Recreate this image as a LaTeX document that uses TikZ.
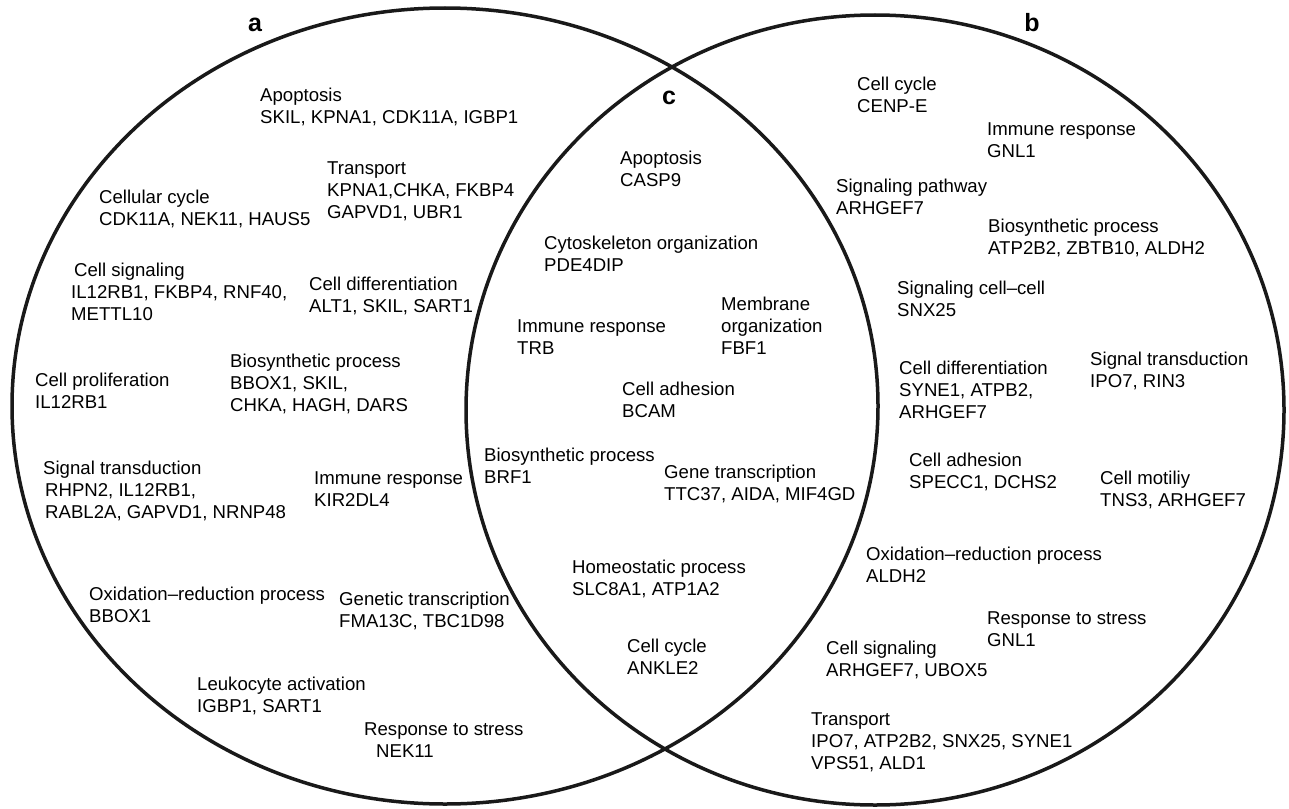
\documentclass[tikz,border=0pt]{standalone}
\usepackage{fontspec}
\setmainfont{Liberation Sans}
\usetikzlibrary{shapes.geometric}
\tikzset{
  set/.style={ellipse, draw=black!90, line width=3.5pt, inner sep=0pt},
  setname/.style={font=\fontsize{25}{25}\selectfont\bfseries, inner sep=0pt},
  term/.style={anchor=north west, align=left, inner sep=0pt,
    font=\fontsize{18.6}{22}\selectfont},
}

\begin{document}
\begin{tikzpicture}[x=1pt,y=-1pt]
  \useasboundingbox (0,0) rectangle (1289,808);
  % the two sets
  \node[set, minimum width=866pt, minimum height=796pt] (A) at (445,406) {};
  \node[set, minimum width=818pt, minimum height=790pt] (B) at (875,410) {};
  \node[setname] (a) at (255,25) {a};
  \node[setname] (b) at (1032,23) {b};
  \node[setname] (c) at (669,98) {c};

  % set a only
  \node[term] (a-apop) at (260,88) {Apoptosis\\SKIL, KPNA1, CDK11A, IGBP1};
  \node[term] (a-trans) at (327,162) {Transport\\KPNA1,CHKA, FKBP4\\GAPVD1, UBR1};
  \node[term] (a-cycle) at (99,190) {Cellular cycle\\CDK11A, NEK11, HAUS5};
  \node[term] (a-signal) at (71,263) {\hspace*{3pt}Cell signaling\\IL12RB1, FKBP4, RNF40,\\METTL10};
  \node[term] (a-diff) at (309,277) {Cell differentiation\\ALT1, SKIL, SART1};
  \node[term] (a-prolif) at (35,373) {Cell proliferation\\IL12RB1};
  \node[term] (a-bios) at (230,354) {Biosynthetic process\\BBOX1, SKIL,\\CHKA, HAGH, DARS};
  \node[term] (a-transd) at (43,461) {Signal transduction\\\hspace*{2pt}RHPN2, IL12RB1,\\\hspace*{2pt}RABL2A, GAPVD1, NRNP48};
  \node[term] (a-immune) at (314,471) {Immune response\\KIR2DL4};
  \node[term] (a-redox) at (89,587) {Oxidation–reduction process\\BBOX1};
  \node[term] (a-gentr) at (339,592) {Genetic transcription\\FMA13C, TBC1D98};
  \node[term] (a-leuko) at (197,677) {Leukocyte activation\\IGBP1, SART1};
  \node[term] (a-stress) at (364,722) {Response to stress\\\hspace*{12pt}NEK11};

  % shared part c
  \node[term] (c-apop) at (620,151) {Apoptosis\\CASP9};
  \node[term] (c-cyto) at (544,236) {Cytoskeleton organization\\PDE4DIP};
  \node[term] (c-immune) at (517,319) {Immune response\\TRB};
  \node[term] (c-membr) at (721,297) {Membrane\\organization\\FBF1};
  \node[term] (c-adh) at (622,382) {Cell adhesion\\BCAM};
  \node[term] (c-bios) at (484,448) {Biosynthetic process\\BRF1};
  \node[term] (c-gene) at (664,465) {Gene transcription\\TTC37, AIDA, MIF4GD};
  \node[term] (c-homeo) at (572,560) {Homeostatic process\\SLC8A1, ATP1A2};
  \node[term] (c-cycle) at (627,639) {Cell cycle\\ANKLE2};

  % set b only
  \node[term] (b-cycle) at (857,77) {Cell cycle\\CENP-E};
  \node[term] (b-immune) at (987,123) {Immune response\\GNL1};
  \node[term] (b-path) at (836,179) {Signaling pathway\\ARHGEF7};
  \node[term] (b-bios) at (988,219) {Biosynthetic process\\ATP2B2, ZBTB10, ALDH2};
  \node[term] (b-cell) at (897,281) {Signaling cell–cell\\SNX25};
  \node[term] (b-diff) at (899,361) {Cell differentiation\\SYNE1, ATPB2,\\ARHGEF7};
  \node[term] (b-transd) at (1090,352) {Signal transduction\\IPO7, RIN3};
  \node[term] (b-adh) at (909,453) {Cell adhesion\\SPECC1, DCHS2};
  \node[term] (b-motil) at (1100,471) {Cell motiliy\\TNS3, ARHGEF7};
  \node[term] (b-redox) at (866,547) {Oxidation–reduction process\\ALDH2};
  \node[term] (b-stress) at (987,611) {Response to stress\\GNL1};
  \node[term] (b-signal) at (826,641) {Cell signaling\\ARHGEF7, UBOX5};
  \node[term] (b-trans) at (811,712) {Transport\\IPO7, ATP2B2, SNX25, SYNE1\\VPS51, ALD1};
\end{tikzpicture}
\end{document}
